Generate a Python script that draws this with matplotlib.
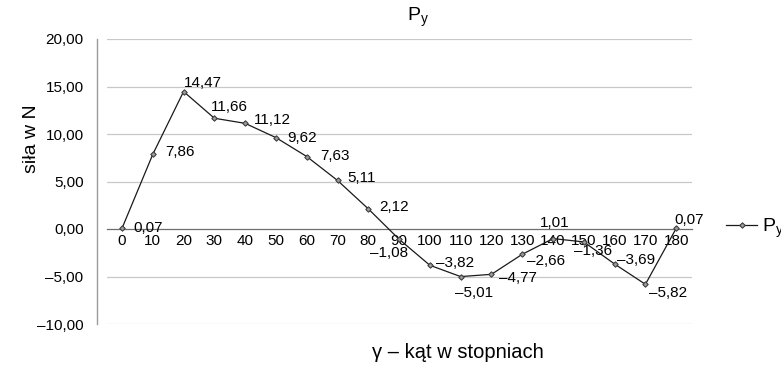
import matplotlib
matplotlib.use("Agg")
import matplotlib.pyplot as plt
from matplotlib.lines import Line2D

plt.rcParams['font.family'] = ['Liberation Sans', 'DejaVu Sans']
plt.rcParams['mathtext.fontset'] = 'custom'
plt.rcParams['mathtext.rm'] = 'Liberation Sans'
plt.rcParams['mathtext.it'] = 'Liberation Sans'

# ---- data ----
categories = ['0', '10', '20', '30', '40', '50', '60', '70', '80', '90', '100',
              '110', '120', '130', '140', '150', '160', '170', '180']
values = [0.07, 7.86, 14.47, 11.66, 11.12, 9.62, 7.63, 5.11, 2.12, -1.08, -3.82,
          -5.01, -4.77, -2.66, -1.01, -1.36, -3.69, -5.82, 0.07]
point_labels = ['0,07', '7,86', '14,47', '11,66', '11,12', '9,62', '7,63', '5,11',
                '2,12', '\u20131,08', '\u20133,82', '\u20135,01', '\u20134,77',
                '\u20132,66', '1,01', '\u20131,36', '\u20133,69', '\u20135,82', '0,07']
y_ticks = [-10, -5, 0, 5, 10, 15, 20]
y_ticklabels = ['\u201310,00', '\u20135,00', '0,00', '5,00', '10,00', '15,00', '20,00']
series_name = r'$\mathregular{P_y}$'
title = r'$\mathregular{P_y}$'
xlabel = '\u03b3 \u2013 k\u0105t w stopniach'
ylabel = 'si\u0142a w N'

# label offsets (pixels, relative to point) - layout only
label_offsets = [(26, 0.5), (27.5, 2.6), (19, 8.5), (15.5, 11), (27, 3), (26, 0),
                 (28, 1), (24.5, 2.5), (25.5, 2), (-10.5, -14), (25, 2), (13, -16.5),
                 (26, -3.7), (24, -6.7), (1.5, 15.6), (9, -9), (21, 4), (22.5, -8.7),
                 (12.5, 8.3)]

W, H = 781, 365
fig = plt.figure(figsize=(W / 100, H / 100), dpi=100)
ax = fig.add_axes([106.6 / W, 1 - 324 / H, (691.6 - 106.6) / W, (324 - 39) / H])

xs = list(range(len(categories)))
mstyle = dict(color='#1a1a1a', lw=0.9, marker='D', markersize=2.8,
              markerfacecolor='#9a9a9a', markeredgecolor='#333333',
              markeredgewidth=0.7)
ax.plot(xs, values, zorder=3, **mstyle)

for x, v, t, (dx, dy) in zip(xs, values, point_labels, label_offsets):
    ax.annotate(t, (x, v), xytext=(dx, dy), textcoords='offset pixels',
                ha='center', va='center', fontsize=11, color='black', zorder=4)

ax.set_xlim(-0.5, len(categories) - 0.5)
ax.set_ylim(-10, 20)
ax.set_yticks(y_ticks)
ax.set_yticklabels(y_ticklabels)
ax.set_xticks(xs)
ax.set_xticklabels(categories)

for yv in y_ticks:
    if yv != 0:
        ax.axhline(yv, color='#c8c8c8', lw=0.9, zorder=1)

for s in ['top', 'right']:
    ax.spines[s].set_visible(False)
ax.spines['left'].set_position(('outward', 7.2))
ax.spines['left'].set_color('#9a9a9a')
ax.spines['left'].set_linewidth(1.0)
ax.spines['bottom'].set_position(('data', 0))
ax.spines['bottom'].set_color('#6e6e6e')
ax.spines['bottom'].set_linewidth(0.9)

ax.tick_params(axis='y', length=0, pad=9.4, labelsize=11)
ax.tick_params(axis='x', length=0, pad=3.5, labelsize=11)

fig.text(418 / W, 1 - 17 / H, title, ha='center', va='center', fontsize=14)
fig.text(458 / W, 1 - 352 / H, xlabel, ha='center', va='center', fontsize=14.5)
fig.text(32 / W, 1 - 139 / H, ylabel, ha='center', va='center', fontsize=14,
         rotation=90)

handle = Line2D([], [], **mstyle)
fig.legend([handle], [series_name], loc='center left',
           bbox_to_anchor=(726 / W, 1 - 228 / H), frameon=False, fontsize=14,
           handlelength=1.6, handletextpad=0.25, borderpad=0, borderaxespad=0)

fig.savefig('out.png', dpi=100)
